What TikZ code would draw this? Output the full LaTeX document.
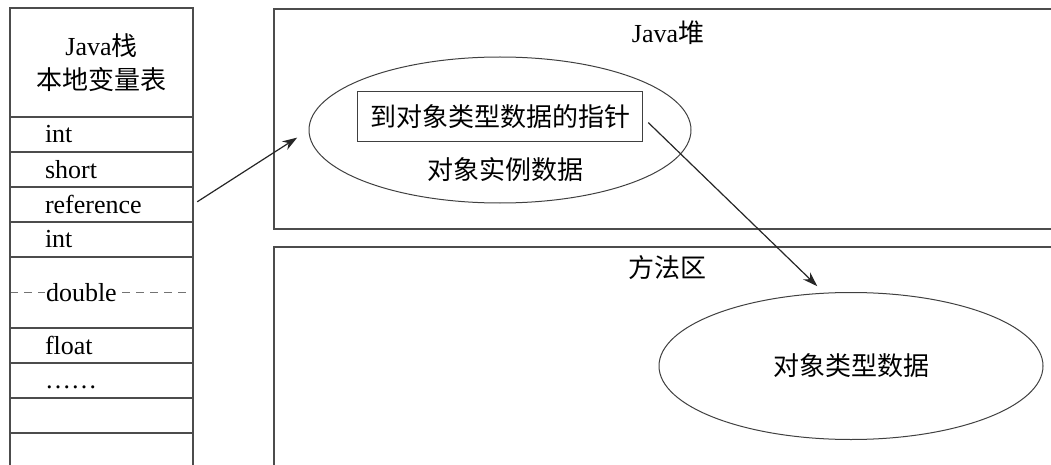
\documentclass[tikz,border=0pt]{standalone}
\usepackage{fontspec}
\setmainfont{Liberation Serif}
\newfontfamily\cjk{Noto Sans CJK SC}
\usetikzlibrary{arrows.meta,positioning,shapes.geometric}
\setlength{\fboxsep}{1pt}

\begin{document}
\begin{tikzpicture}[x=1pt,y=-1pt,>={Stealth[length=15pt,width=10pt]},line width=1.4pt,
                    font=\fontsize{26}{34}\selectfont]
  \tikzstyle{every node}=[inner sep=0pt,outer sep=0pt]
  \tikzstyle{cell}=[draw=black!70,rectangle,minimum width=183pt,minimum height=35pt,
                    text width=113pt,inner xsep=35pt,align=left]
  \tikzstyle{area}=[draw=black!70,rectangle,anchor=north west,minimum width=820pt]
  \tikzstyle{blob}=[draw=black!75,ellipse,line width=1pt]
  \tikzstyle{link}=[->,black!85,line width=1.2pt]

  \useasboundingbox (0,0) rectangle (1051,465);
  \clip (0,0) rectangle (1051,465);

  % Java stack
  \node[cell,minimum height=109pt,anchor=north west,align=center,
        inner xsep=0pt,text width=183pt] (head) at (10,8)
        {Java{\cjk 栈}\\{\cjk 本地变量表}};
  \node[cell] (r1) [below=0pt of head] {int};
  \node[cell] (r2) [below=0pt of r1]   {short};
  \node[cell] (r3) [below=0pt of r2]   {reference};
  \node[cell] (r4) [below=0pt of r3]   {int};
  \node[cell,minimum height=71pt,
        path picture={\draw[dashed,dash pattern=on 8pt off 6pt,black!55,line width=1pt]
          (path picture bounding box.west) -- (path picture bounding box.east);}]
        (r5) [below=0pt of r4] {\colorbox{white}{double}};
  \node[cell] (r6) [below=0pt of r5]   {float};
  \node[cell] (r7) [below=0pt of r6]   {\vphantom{int}……};
  \node[cell] (r8) [below=0pt of r7]   {};
  \node[cell,minimum height=45pt] (r9) [below=0pt of r8] {};

  % heap and method area
  \node[area,minimum height=220pt] (heap) at (274,9) {};
  \node (heaptitle) at (668,33) {Java{\cjk 堆}};
  \node[area,minimum height=240pt] (method) at (274,247) {};
  \node (methodtitle) at (667,268) {{\cjk 方法区}};

  \node[blob,minimum width=382pt,minimum height=146pt] (obj) at (500,130) {};
  \node[draw=black!75,line width=1pt,minimum width=285pt,minimum height=50pt]
        (ptr) at (500,117) {{\cjk 到对象类型数据的指针}};
  \node (objdata) at (505,170) {{\cjk 对象实例数据}};
  \node[blob,minimum width=384pt,minimum height=147pt] (klass) at (851,366)
        {{\cjk 对象类型数据}};

  \draw[link,shorten <=5pt,shorten >=14pt] (r3.east) -- (obj.west);
  \draw[link,shorten <=8pt,shorten >=10pt] (ptr.east) -- (klass.110);
\end{tikzpicture}
\end{document}
